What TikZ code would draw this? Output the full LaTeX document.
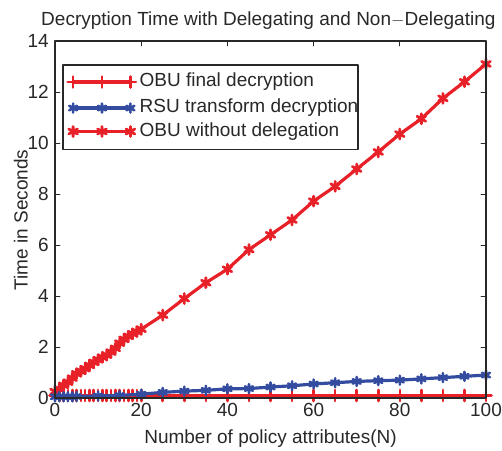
\documentclass[tikz,border=0pt]{standalone}
\usepackage{fontspec}
\setmainfont{Liberation Sans}
\usetikzlibrary{plotmarks}
\definecolor{obured}{RGB}{232,32,40}
\definecolor{rsublue}{RGB}{52,76,160}
\definecolor{axisgray}{RGB}{40,40,40}
\tikzset{
  withoutline/.style={obured, line width=3.2pt, mark=asterisk, mark size=5pt, mark options={solid, line width=2.8pt}},
  finalline/.style={obured, line width=3.2pt, mark=+, mark size=5.5pt, mark options={solid, line width=2.6pt}},
  rsuline/.style={rsublue, line width=3.2pt, mark=asterisk, mark size=4.5pt, mark options={solid, line width=2.6pt}},
  ticklabel/.style={text=axisgray, inner sep=1pt}
}
\begin{document}
\begin{tikzpicture}[x=4.31pt, y=25.5pt, font=\fontsize{19}{22}\selectfont, line join=round, line cap=round]
	\def\xmax{100} \def\ymax{14}
	\useasboundingbox (-55pt,-52pt) rectangle (447pt,398pt);
	% ticks and labels
	\foreach \x in {0,20,...,100}{
		\draw[axisgray, line width=0.8pt] (\x,0)--++(0,5pt) (\x,\ymax)--++(0,-5pt);
		\node[ticklabel, below=4pt] (xt\x) at (\x,0) {\x};
	}
	\foreach \y in {0,2,...,14}{
		\draw[axisgray, line width=0.8pt] (0,\y)--++(5pt,0) (\xmax,\y)--++(-5pt,0);
		\node[ticklabel, left=5pt] (yt\y) at (0,\y) {\y};
	}
	% data
	\draw[withoutline] plot coordinates {(0,0.25)(1,0.35)(2,0.5)(3,0.62)(4,0.78)(5,0.95)(6,1.05)(7,1.15)(8,1.28)(9,1.4)(10,1.5)(11,1.6)(12,1.68)(13,1.8)(14,1.95)(15,2.15)(16,2.3)(17,2.42)(18,2.52)(19,2.6)(20,2.7)(25,3.25)(30,3.9)(35,4.52)(40,5.05)(45,5.82)(50,6.4)(55,6.98)(60,7.72)(65,8.3)(70,8.98)(75,9.65)(80,10.35)(85,10.95)(90,11.75)(95,12.4)(100,13.1)};
	\draw[finalline] plot[samples at={0,1,...,20,25,30,...,100}] (\x,0.1);
	\draw[rsuline] plot coordinates {(0,0.05)(1,0.05)(2,0.05)(3,0.05)(4,0.05)(5,0.06)(10,0.08)(15,0.1)(20,0.15)(25,0.22)(30,0.27)(35,0.3)(40,0.36)(45,0.37)(50,0.43)(55,0.48)(60,0.55)(65,0.6)(70,0.65)(75,0.68)(80,0.7)(85,0.75)(90,0.8)(95,0.85)(100,0.9)};
	% frame
	\draw[axisgray, line width=1.2pt] (0,0) rectangle (\xmax,\ymax);
	% legend
	\draw[axisgray, fill=white, line width=1.2pt] (1.86,9.73) rectangle (70.3,13.06);
	\draw[finalline] plot coordinates {(4.2,12.39)(17.5,12.39)};
	\draw[finalline, only marks] plot coordinates {(10.9,12.39)};
	\node[anchor=west, text=axisgray, inner sep=0pt] (lgfinal) at (19.6,12.39) {OBU final decryption};
	\draw[rsuline] plot coordinates {(4.2,11.37)(17.5,11.37)};
	\draw[rsuline, only marks] plot coordinates {(10.9,11.37)};
	\node[anchor=west, text=axisgray, inner sep=0pt] (lgrsu) at (19.6,11.37) {RSU transform decryption};
	\draw[withoutline] plot coordinates {(4.2,10.45)(17.5,10.45)};
	\draw[withoutline, only marks] plot coordinates {(10.9,10.45)};
	\node[anchor=west, text=axisgray, inner sep=0pt] (lgwithout) at (19.6,10.45) {OBU without delegation};
	% titles
	\node[anchor=base, text=axisgray] (title) at (49.5,14.62) {Decryption Time with Delegating and Non$-$Delegating};
	\node[anchor=base, text=axisgray] (xlabel) at (50,-1.8) {Number of policy attributes(N)};
	\node[rotate=90, text=axisgray] (ylabel) at (-7.9,6.98) {Time in Seconds};
\end{tikzpicture}
\end{document}
